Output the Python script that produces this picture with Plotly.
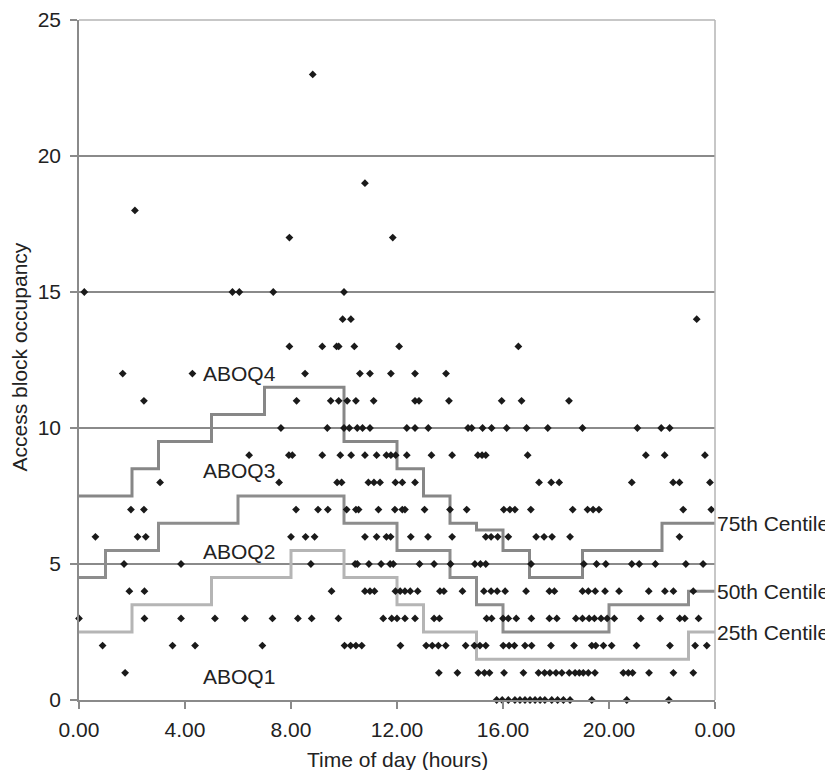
import plotly.graph_objects as go

# ---------------- data ----------------
# observed access block occupancy: hours of day at which each occupancy level was observed
hours_occ0 = [15.76, 15.97, 16.2, 16.45, 16.64, 16.83, 17.02, 17.21, 17.4, 17.58, 17.84, 18.06, 18.28, 18.53, 19.35, 20.67, 22.26]
hours_occ1 = [1.74, 13.58, 14.28, 15.07, 15.3, 15.49, 16.04, 16.77, 17.34, 17.57, 17.77, 18.0, 18.22, 18.5, 18.72, 18.88, 19.03, 19.22, 19.47, 20.54, 20.73, 20.89, 21.51, 22.43, 23.18]
hours_occ2 = [0.89, 3.53, 4.38, 6.92, 10.02, 10.25, 10.45, 10.67, 12.13, 13.1, 13.33, 13.56, 13.84, 14.59, 14.92, 15.13, 15.35, 16.01, 16.23, 16.43, 16.83, 17.08, 17.81, 18.68, 19.35, 19.5, 19.79, 20.1, 21.04, 22.3, 23.25, 23.69]
hours_occ3 = [0.0, 2.47, 3.85, 5.13, 6.26, 7.3, 8.26, 8.78, 9.79, 11.48, 11.8, 12.0, 12.3, 12.68, 13.4, 13.6, 15.38, 15.57, 16.0, 16.2, 16.5, 17.07, 17.75, 18.03, 18.75, 19.0, 19.25, 19.45, 19.7, 19.93, 20.2, 21.2, 21.93, 22.67, 22.86, 23.38]
hours_occ4 = [1.9, 2.47, 9.53, 10.79, 10.98, 11.15, 11.94, 12.12, 12.3, 12.5, 12.78, 13.62, 13.77, 14.47, 15.28, 15.55, 15.78, 16.08, 16.87, 17.75, 17.94, 19.0, 19.22, 19.48, 19.85, 20.38, 21.5, 22.11, 22.43, 23.18]
hours_occ5 = [1.7, 3.85, 8.75, 10.42, 10.5, 10.94, 11.4, 11.74, 11.86, 12.85, 13.4, 14.02, 14.94, 15.15, 15.35, 17.06, 19.05, 19.53, 19.88, 20.86, 21.14, 21.75, 22.9, 23.55]
hours_occ6 = [0.62, 2.21, 2.52, 8.0, 8.55, 8.89, 10.79, 11.23, 11.6, 11.76, 12.52, 13.17, 14.08, 15.35, 15.55, 15.8, 16.2, 17.25, 17.55, 17.85, 18.53, 22.66]
hours_occ7 = [1.96, 2.45, 8.19, 9.02, 9.39, 10.1, 10.45, 10.55, 11.3, 11.92, 12.2, 12.3, 13.04, 14.0, 14.63, 16.03, 16.26, 16.45, 17.05, 18.63, 19.19, 19.4, 19.62, 22.8, 23.86]
hours_occ8 = [3.06, 7.55, 9.74, 9.91, 10.92, 11.13, 11.36, 11.94, 12.2, 12.68, 17.36, 17.82, 18.12, 20.86, 22.42, 22.66, 23.81]
hours_occ9 = [6.42, 7.92, 8.05, 9.18, 9.86, 10.27, 10.79, 11.23, 11.6, 11.77, 11.95, 12.37, 13.3, 14.08, 15.05, 15.21, 15.35, 16.93, 21.39, 22.1, 23.62]
hours_occ10 = [7.62, 9.37, 10.0, 10.2, 10.5, 10.7, 10.98, 12.37, 12.68, 13.18, 14.68, 14.82, 15.23, 15.57, 16.14, 16.89, 17.69, 19.0, 21.07, 21.97, 22.29]
hours_occ11 = [2.45, 8.21, 9.5, 9.8, 10.12, 10.45, 11.12, 12.68, 12.83, 13.96, 15.95, 16.7, 18.49]
hours_occ12 = [1.65, 4.28, 8.53, 10.6, 10.98, 11.77, 12.68, 13.85]
hours_occ13 = [7.94, 9.18, 9.72, 9.8, 10.39, 12.08, 16.58]
hours_occ14 = [9.95, 10.26, 23.31]
hours_occ15 = [0.2, 5.79, 6.05, 7.33, 10.0]
hours_occ17 = [7.94, 11.84]
hours_occ18 = [2.11]
hours_occ19 = [10.79]
hours_occ23 = [8.82]

# centile step lines (hour at which each step starts, final point closes at 24 h)
c75_hours = [0, 2, 3, 5, 7, 10, 12, 13, 14, 15, 16, 17, 19, 22, 24]
c75_values = [7.5, 8.5, 9.5, 10.5, 11.5, 9.5, 8.5, 7.5, 6.5, 6.25, 5.5, 4.5, 5.5, 6.5, 6.5]
c50_hours = [0, 1, 3, 6, 10, 12, 14, 15, 16, 20, 23, 24]
c50_values = [4.5, 5.5, 6.5, 7.5, 6.5, 5.5, 4.5, 3.5, 2.5, 3.5, 4, 4]
c25_hours = [0, 2, 5, 8, 10, 12, 13, 15, 23, 24]
c25_values = [2.5, 3.5, 4.5, 5.5, 4.5, 3.5, 2.5, 1.5, 2.5, 2.5]

centile_labels = ["75th Centile", "50th Centile", "25th Centile"]
zone_labels = ["ABOQ4", "ABOQ3", "ABOQ2", "ABOQ1"]
zone_label_y = [12, 8.45, 5.45, 0.85]
zone_label_x = 4.6

x_tickvals = [0, 4, 8, 12, 16, 20, 24]
x_ticktext = ["0.00", "4.00", "8.00", "12.00", "16.00", "20.00", "0.00"]
y_tickvals = [0, 5, 10, 15, 20, 25]

# ---------------- build ----------------
levels = {0: hours_occ0, 1: hours_occ1, 2: hours_occ2, 3: hours_occ3, 4: hours_occ4,
          5: hours_occ5, 6: hours_occ6, 7: hours_occ7, 8: hours_occ8, 9: hours_occ9,
          10: hours_occ10, 11: hours_occ11, 12: hours_occ12, 13: hours_occ13,
          14: hours_occ14, 15: hours_occ15, 17: hours_occ17, 18: hours_occ18,
          19: hours_occ19, 23: hours_occ23}
px, py = [], []
for occ, hrs in levels.items():
    px.extend(hrs)
    py.extend([occ] * len(hrs))

FONT = "Liberation Sans, Arial, Helvetica, sans-serif"
TXT = "#222222"
FS = 21

fig = go.Figure()

for hrs, vals, col in [(c75_hours, c75_values, "#878787"),
                       (c50_hours, c50_values, "#8d8d8d"),
                       (c25_hours, c25_values, "#b5b5b5")]:
    fig.add_trace(go.Scatter(x=hrs, y=vals, mode="lines", line=dict(shape="hv", color=col, width=3),
                             showlegend=False, hoverinfo="skip", cliponaxis=False))

fig.add_trace(go.Scatter(x=px, y=py, mode="markers",
                         marker=dict(symbol="diamond", size=6, color="#1a1a1a", line=dict(width=0)),
                         showlegend=False, cliponaxis=False))

# plot frame (top and right borders lighter)
fig.add_shape(type="line", xref="x domain", yref="y domain", x0=0, x1=1, y0=1, y1=1,
              line=dict(color="#b4b4b4", width=1.5), layer="above")
fig.add_shape(type="line", xref="x domain", yref="y domain", x0=1, x1=1, y0=0, y1=1,
              line=dict(color="#b4b4b4", width=1.5), layer="above")

for lab, yv in zip(zone_labels, zone_label_y):
    fig.add_annotation(x=zone_label_x, y=yv, text=lab, showarrow=False, xanchor="left", yanchor="middle",
                       font=dict(family=FONT, size=FS, color=TXT))

for lab, vals in zip(centile_labels, [c75_values, c50_values, c25_values]):
    fig.add_annotation(x=24, y=vals[-1], text=lab, showarrow=False, xanchor="left", yanchor="middle",
                       xshift=0, font=dict(family=FONT, size=FS, color=TXT))

fig.add_annotation(xref="paper", yref="paper", x=0.5, y=-0.087, text="Time of day (hours)",
                   showarrow=False, xanchor="center", yanchor="middle",
                   font=dict(family=FONT, size=FS, color=TXT))
fig.add_annotation(xref="paper", yref="paper", x=-0.093, y=0.505, text="Access block occupancy",
                   showarrow=False, xanchor="center", yanchor="middle", textangle=-90,
                   font=dict(family=FONT, size=FS, color=TXT))

fig.update_xaxes(range=[0, 24], tickvals=x_tickvals, ticktext=x_ticktext, showgrid=False, zeroline=False,
                 showline=True, linecolor="#8a8a8a", linewidth=1.5, ticks="outside", ticklen=7,
                 tickcolor="#8a8a8a", tickwidth=1.5, ticklabelstandoff=3, automargin=False,
                 tickfont=dict(family=FONT, size=FS, color=TXT))
fig.update_yaxes(range=[0, 25], tickvals=y_tickvals, showgrid=True, gridcolor="#8a8a8a", gridwidth=1.5,
                 zeroline=False, showline=True, linecolor="#8a8a8a", linewidth=1.5, ticks="outside",
                 ticklen=7, tickcolor="#8a8a8a", tickwidth=1.5, ticklabelstandoff=5, automargin=False,
                 tickfont=dict(family=FONT, size=FS, color=TXT))

# the page body adds an 8px offset, so the figure is sized to fit the 833x770 window
fig.update_layout(width=825, height=762, margin=dict(l=71, r=118, t=12, b=70, autoexpand=False),
                  plot_bgcolor="white", paper_bgcolor="white", showlegend=False)

fig.write_html("out.html")
